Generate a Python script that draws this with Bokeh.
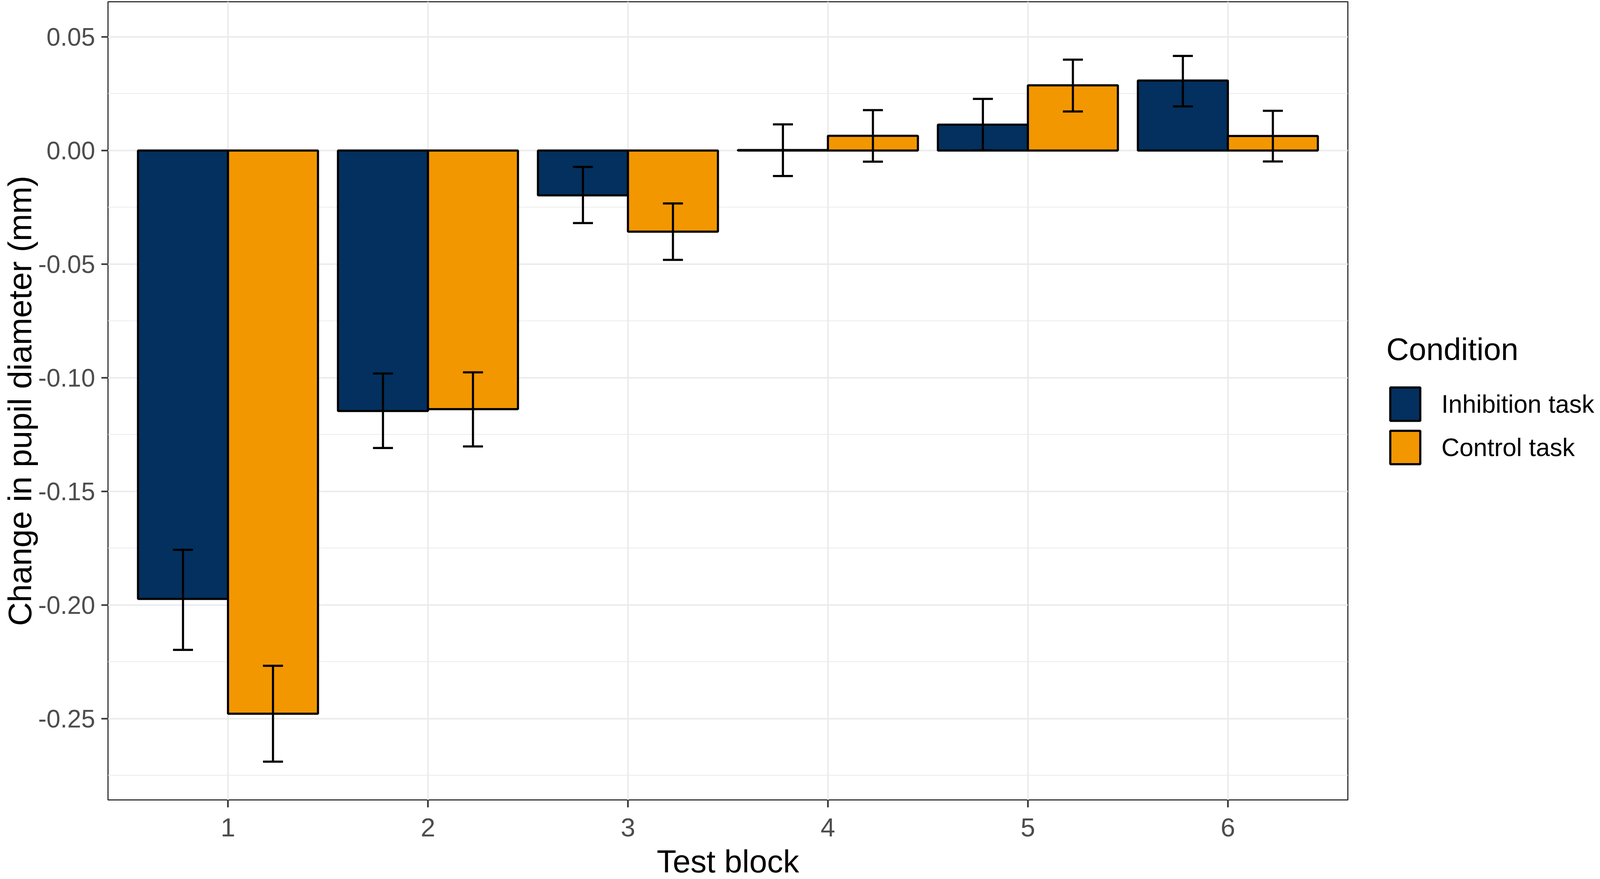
from bokeh.plotting import figure
from bokeh.models import (ColumnDataSource, FactorRange, Range1d, FixedTicker,
                          NumeralTickFormatter, Legend, LegendItem)
from bokeh.transform import dodge
from bokeh.embed import file_html
from bokeh.resources import INLINE

# ---- data ----
blocks = ["1", "2", "3", "4", "5", "6"]
conditions = ["Inhibition task", "Control task"]
inhibition_mean = [-0.1973, -0.1146, -0.0197, 0.0002, 0.0114, 0.0308]
inhibition_upper = [-0.1757, -0.0981, -0.0072, 0.0115, 0.0227, 0.0416]
inhibition_lower = [-0.2197, -0.1309, -0.0319, -0.0112, 0.0001, 0.0194]
control_mean = [-0.2478, -0.1138, -0.0357, 0.0065, 0.0287, 0.0064]
control_upper = [-0.2267, -0.0976, -0.0233, 0.0178, 0.0400, 0.0175]
control_lower = [-0.2689, -0.1302, -0.0481, -0.0049, 0.0172, -0.0048]
y_ticks = [-0.25, -0.20, -0.15, -0.10, -0.05, 0.00, 0.05]
y_minor = [-0.275, -0.225, -0.175, -0.125, -0.075, -0.025, 0.025]
colors = ["#03305E", "#F39700"]
x_title = "Test block"
y_title = "Change in pupil diameter (mm)"
legend_title = "Condition"

FONT = "Liberation Sans"

p = figure(frame_width=3174, frame_height=2044,
           output_backend="svg", toolbar_location=None,
           x_range=FactorRange(factors=blocks, range_padding=0.1,
                               range_padding_units="absolute"),
           y_range=Range1d(-0.28574, 0.06546),
           min_border_left=270, min_border_right=636,
           min_border_top=4, min_border_bottom=187)
p.background_fill_color = "white"
p.border_fill_color = "white"
p.outline_line_color = "#333333"
p.outline_line_width = 3

src_i = ColumnDataSource(dict(block=blocks, mean=inhibition_mean,
                              upper=inhibition_upper, lower=inhibition_lower))
src_c = ColumnDataSource(dict(block=blocks, mean=control_mean,
                              upper=control_upper, lower=control_lower))

bar_w = 0.45
off = bar_w / 2
cap = 0.05

renderers = []
for src, sign, col in [(src_i, -1, colors[0]), (src_c, 1, colors[1])]:
    r = p.vbar(x=dodge("block", sign * off, range=p.x_range), top="mean", bottom=0,
               width=bar_w, source=src, fill_color=col, line_color="black",
               line_width=5.5)
    renderers.append(r)
for src, sign in [(src_i, -1), (src_c, 1)]:
    p.segment(x0=dodge("block", sign * off, range=p.x_range), y0="lower",
              x1=dodge("block", sign * off, range=p.x_range), y1="upper",
              source=src, line_color="black", line_width=5.5)
    for fld in ["upper", "lower"]:
        p.segment(x0=dodge("block", sign * off - cap, range=p.x_range), y0=fld,
                  x1=dodge("block", sign * off + cap, range=p.x_range), y1=fld,
                  source=src, line_color="black", line_width=5.5)

# grid
p.xgrid.grid_line_color = "#EBEBEB"
p.xgrid.grid_line_width = 4
p.ygrid.ticker = FixedTicker(ticks=y_ticks, minor_ticks=y_minor)
p.ygrid.grid_line_color = "#EBEBEB"
p.ygrid.grid_line_width = 4.2
p.ygrid.minor_grid_line_color = "#EBEBEB"
p.ygrid.minor_grid_line_width = 2.1

# axes
p.yaxis.ticker = FixedTicker(ticks=y_ticks, minor_ticks=y_minor)
p.yaxis.formatter = NumeralTickFormatter(format="0.00")
for ax in (p.xaxis[0], p.yaxis[0]):
    ax.axis_line_color = None
    ax.major_tick_line_color = "#333333"
    ax.major_tick_line_width = 4.2
    ax.major_tick_in = 0
    ax.minor_tick_out = 0
    ax.minor_tick_in = 0
    ax.major_label_text_font = FONT
    ax.major_label_text_color = "#4D4D4D"
    ax.axis_label_text_font = FONT
    ax.axis_label_text_font_style = "normal"
    ax.axis_label_text_color = "black"
p.xaxis.major_label_text_font_size = "67px"
p.yaxis.major_label_text_font_size = "64px"
p.xaxis.major_tick_out = 19
p.yaxis.major_tick_out = 17
p.xaxis.axis_label = x_title
p.yaxis.axis_label = y_title
p.xaxis.axis_label_text_font_size = "82px"
p.yaxis.axis_label_text_font_size = "84px"
p.xaxis.major_label_standoff = 28
p.xaxis.axis_label_standoff = 15
p.yaxis.major_label_standoff = 16
p.yaxis.axis_label_standoff = -3

legend = Legend(items=[LegendItem(label=conditions[0], renderers=[renderers[0]]),
                       LegendItem(label=conditions[1], renderers=[renderers[1]])],
                location=(99, 849), orientation="vertical")
legend.title = legend_title
legend.title_text_font = FONT
legend.title_text_font_size = "80px"
legend.title_text_font_style = "normal"
legend.title_text_color = "black"
legend.title_standoff = 40
legend.label_text_font = FONT
legend.label_text_font_size = "64px"
legend.label_text_color = "black"
legend.label_standoff = 45
legend.glyph_width = 96
legend.glyph_height = 107
legend.label_height = 107
legend.spacing = 4
legend.margin = 0
legend.padding = 0
legend.border_line_color = None
legend.background_fill_alpha = 0
p.add_layout(legend, "right")

open("out.html", "w").write(file_html(p, INLINE))
